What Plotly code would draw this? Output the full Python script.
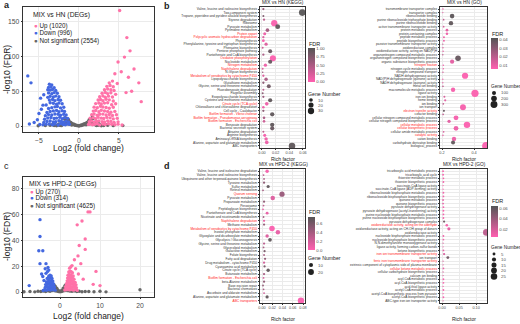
import plotly.graph_objects as go

W, H = 520, 324
FONT = "Arial, 'Liberation Sans', sans-serif"
PINK = '#ff72a8'
BLUE = '#4468e0'
GRAY = '#666666'
CSCALE = [[0, '#ff5fb0'], [1, '#555555']]
RED = '#ff2020'

# ---------------- Volcano data: panel a (MIX vs HN) ----------------
a_ns_x = [-4.2,-3.6,-3.1,-2.7,-2.4,-2.1,-1.9,-1.7,-1.5,-1.3,-1.1,-0.9,-0.7,-0.5,-0.3,-0.1,0.1,0.3,0.5,0.7,0.9,1.1,1.3,1.5,1.7,1.9,2.1,2.4,2.7,3.1,3.6,4.3,
          -1.6,-1.4,-1.2,-1.0,-0.8,-0.6,-0.4,0.4,0.6,0.8,1.0,1.2,1.4,1.6,-1.5,-1.2,-0.9,0.9,1.2,1.5,-1.8,-1.3,1.3,1.8,-0.2,0.2,0.0,
          -2.8,2.8,-2.2,2.2,-5.1,5.5,-3.3,3.3,-2.5,2.5,-2.0,2.0,-1.7,1.7]
a_ns_y = [0.8,1.2,0.6,1.5,0.9,1.8,2.5,4,6,5,4,3,2,1.2,0.6,0.3,0.4,0.7,1.3,2.1,3.2,4.2,5.5,6.5,4.5,2.8,1.6,1.0,1.4,0.7,1.1,0.5,
          8,7,6.5,5,3.5,2.5,1.5,1.8,2.8,3.8,5.2,7,8,9,3,2.5,1.5,1.7,2.6,3.2,10,9,9.5,11,0.9,1,0.2,
          0.3,0.4,0.5,0.6,0.4,0.6,2.2,2.5,3,3.3,5,5.5,12,13]
a_down_x = [-1.2,-1.4,-1.7,-2.0,-2.3,-2.6,-3.0,-3.3,-3.7,-4.1,-4.5,-4.9,
            -1.3,-1.6,-1.9,-2.2,-2.5,-2.9,-3.2,-3.6,-4.0,-4.4,
            -1.4,-1.8,-2.1,-2.4,-2.8,-3.1,-3.5,-3.9,-4.3,
            -1.6,-1.9,-2.3,-2.6,-3.0,-3.4,-3.8,-4.2,
            -1.8,-2.1,-2.5,-2.8,-3.2,-3.6,-4.0,
            -1.9,-2.3,-2.7,-3.0,-3.4,-3.8,
            -2.1,-2.5,-2.8,-3.2,-3.6,-4.1,
            -2.3,-2.6,-3.0,-3.3,-3.7,
            -2.5,-2.9,-3.2,-3.6,-3.9,
            -2.7,-3.1,-3.4,-3.8,
            -2.9,-3.3,-3.6,
            -3.1,-3.5,-3.8,
            -3.4,-3.7,
            -4.5,-4.7,-5.0,-5.2,-4.4,-6.4,-6.0,-5.6,-6.2,-4.8,-3.9]
a_down_y = [2.5,3.1,1.8,2.2,3.4,1.5,2.8,1.9,3.0,2.4,1.7,2.2,
            6,7,5.5,6.5,7.5,6.2,5.8,7.1,6.4,5.1,
            11,12,10.5,12.5,11.4,10.8,12.2,11.6,9.8,
            16,17,15.5,16.8,17.3,15.9,16.4,14.9,
            21,22,20.6,22.4,21.7,20.8,19.5,
            27,26,28,27.5,26.4,25.2,
            32,33,31.4,32.8,33.5,30.1,
            37,38,36.5,38.2,37.4,
            42,43,41.6,42.8,41.2,
            47,48,46.5,47.6,
            51,52.5,51.5,
            55,56,55.5,
            59,60,
            30,24,18,9,45,72,62,5,3,40,52]
a_up_x = [1.2,1.4,1.7,2.0,2.3,2.6,3.0,3.3,3.7,4.1,4.5,4.9,5.4,
          1.3,1.6,1.9,2.2,2.5,2.9,3.2,3.6,4.0,4.4,4.9,
          1.4,1.8,2.1,2.4,2.8,3.1,3.5,3.9,4.3,4.8,
          1.6,1.9,2.3,2.6,3.0,3.4,3.8,4.2,4.7,
          1.8,2.1,2.5,2.8,3.2,3.6,4.0,4.5,
          1.9,2.3,2.7,3.0,3.4,3.8,4.3,
          2.1,2.5,2.8,3.2,3.6,4.1,4.6,
          2.4,2.7,3.0,3.4,3.8,4.3,
          2.6,3.0,3.3,3.7,4.2,
          2.9,3.3,3.6,4.0,4.6,
          3.2,3.6,4.0,4.4,
          3.5,3.9,4.3,
          3.8,4.2,4.8,
          5.1,6.0,6.4,5.7,4.9,6.9,7.5,6.2,5.3,7.8,6.6,4.5,5.9]
a_up_y = [2.3,3.0,1.9,2.6,3.3,1.6,2.9,2.1,3.2,2.5,1.8,2.7,1.5,
          6.2,7.1,5.6,6.8,7.4,6.1,5.9,7.2,6.6,5.3,6.0,
          11.2,12.1,10.6,12.6,11.3,10.9,12.4,11.7,10.2,11.0,
          16.3,17.2,15.4,16.9,17.1,15.8,16.6,15.1,16.2,
          21.4,22.2,20.5,22.6,21.5,20.9,19.8,21.0,
          27.1,26.2,28.3,27.4,26.6,25.5,27.0,
          32.2,33.1,31.6,32.9,33.4,30.5,32.0,
          37.3,38.1,36.4,38.4,37.6,36.0,
          42.2,43.3,41.5,42.9,41.7,
          47.1,48.2,46.6,47.7,45.5,
          52.0,53.1,52.2,51.0,
          57.0,58.2,56.5,
          62.0,64.5,61.0,
          166,127,108,99,92,82,62,70,78,35,50,75,48]

# ---------------- Volcano data: panel c (MIX vs HPD-2) ----------------
c_ns_x = [-9,-7.5,-6.3,-5.5,-4.8,-4.2,-3.6,-3.0,-2.5,-2.0,-1.6,-1.2,-0.8,-0.4,0,0.4,0.8,1.2,1.6,2.0,2.5,3.0,3.6,4.2,4.8,5.5,6.3,7.2,8.5,10,11.5,20,
          -1.4,-1.0,-0.6,-0.2,0.2,0.6,1.0,1.4,-1.2,1.2,-0.8,0.8,-1.5,1.5,-2.2,2.3,-3.3,3.4]
c_ns_y = [0.3,0.5,0.2,0.6,0.4,0.8,0.5,1.0,0.7,1.2,1.5,1.0,0.8,0.4,0.2,0.5,0.9,1.3,1.6,1.1,0.8,0.6,0.9,0.4,0.7,0.3,0.5,0.4,0.3,0.6,0.2,1.8,
          3.5,2.5,1.6,0.8,0.9,1.7,2.6,3.6,4.5,4.7,3.0,3.1,5.5,5.8,2.0,2.2,1.4,1.5]
c_down_x = [-1.2,-1.5,-1.8,-2.1,-2.4,-2.7,-3.0,-3.4,-3.8,-4.2,
            -1.4,-1.7,-2.0,-2.3,-2.6,-2.9,-3.3,-3.7,
            -1.6,-1.9,-2.2,-2.5,-2.8,-3.2,-3.6,
            -1.8,-2.1,-2.4,-2.7,-3.0,-3.4,
            -2.0,-2.3,-2.6,-2.9,-3.2,
            -2.2,-2.5,-2.8,-3.5,-3.1,
            -5.0,-5.0,-5.3,-4.3,-5.0,-3.5,-3.7,-7.7,-4.3,-4.6,-3.0,-4.0,-2.8]
c_down_y = [1.5,2.2,1.8,2.5,1.6,2.3,1.9,1.4,2.0,1.2,
            4.0,4.6,3.8,4.4,4.1,3.6,4.3,3.5,
            6.3,6.8,6.1,6.6,6.0,6.4,5.8,
            8.5,9.0,8.2,8.8,8.1,7.9,
            10.5,11.2,10.8,10.1,10.6,
            12.5,13.0,12.2,14.5,16.0,
            56,43,32,32,22,22,18,5,12,14,19,9,17]
c_up_x = [1.2,1.5,1.8,2.1,2.4,2.7,3.0,3.4,3.8,4.3,
          1.4,1.7,2.0,2.3,2.6,2.9,3.3,3.7,4.1,
          1.6,1.9,2.2,2.5,2.8,3.2,3.6,4.0,
          1.8,2.1,2.4,2.7,3.0,3.4,3.8,
          1.9,2.2,2.5,2.8,3.1,3.5,
          2.0,2.3,2.6,2.9,3.3,
          2.2,2.5,2.8,3.1,
          2.4,2.7,3.0,
          7.0,7.5,5.5,4.3,6.3,4.8,6.3,4.5,9.0,8.3,10.0,3.6,5.2,3.9,4.6,5.8]
c_up_y = [1.6,2.3,1.9,2.6,1.7,2.4,2.0,1.5,2.1,1.3,
          4.2,4.8,4.0,4.5,4.3,3.8,4.4,3.7,3.3,
          6.5,7.0,6.3,6.8,6.2,6.6,6.0,5.6,
          8.7,9.2,8.4,9.0,8.3,8.1,7.5,
          10.8,11.4,11.0,10.4,10.9,10.0,
          13.0,13.6,13.2,12.6,12.4,
          15.5,16.2,15.8,15.0,
          18.5,19.5,20.5,
          62,62,55,52,41,36,33,28,16,6,5,25,22,18,14,10]

# ---------------- Panel b: KEGG (MIX vs HN) ----------------
b_kegg_terms = ["Valine, leucine and isoleucine biosynthesis","Two-component system",
  "Tropane, piperidine and pyridine alkaloid biosynthesis","Styrene degradation","Ribosome",
  "Pyruvate metabolism","Pyrimidine metabolism","Protein export",
  "Polycyclic aromatic hydrocarbon degradation","Photosynthesis",
  "Phenylalanine, tyrosine and tryptophan biosynthesis","Phenazine biosynthesis",
  "Pentose phosphate pathway","Pantothenate and CoA biosynthesis","Oxidative phosphorylation",
  "Nucleotide metabolism","Nitrogen metabolism","Naphthalene degradation","N-Glycan biosynthesis",
  "Metabolism of xenobiotics by cytochrome P450","Lipopolysaccharide biosynthesis",
  "Glutathione metabolism","Glycine, serine and threonine metabolism","Fluorobenzoate degradation",
  "Flagellar assembly","Exopolysaccharide biosynthesis","Cysteine and methionine metabolism",
  "Citrate cycle (TCA cycle)","Chloroalkane and chloroalkene degradation","Cell cycle - Caulobacter",
  "Biofilm formation - Vibrio cholerae","Biofilm formation - Pseudomonas aeruginosa",
  "Biofilm formation - Escherichia coli","Benzoate degradation","Bacterial secretion system",
  "Atrazine degradation","Arginine biosynthesis","Aminoacyl-tRNA biosynthesis",
  "Alanine, aspartate and glutamate metabolism","ABC transporters"]
b_kegg_red = [8, 9, 15, 17, 18, 20, 28, 31, 32, 33]
b_kegg_rich = [0.002,0.059,0.002,0.003,0.018,0.023,0.008,0.004,0.002,0.002,
               0.006,0.001,0.012,0.002,0.016,0.012,0.005,0.001,0.001,0.002,
               0.006,0.002,0.010,0.002,0.001,0.002,0.012,0.007,0.002,0.002,
               0.015,0.003,0.003,0.015,0.015,0.002,0.004,0.006,0.007,0.044]
b_kegg_fdr = [0.6,1.0,0.8,0.4,0.02,0.95,0.55,0.1,0.2,0.05,
              0.2,0.3,0.9,0.5,0.01,0.9,0.1,0.2,0.6,0.2,
              0.5,0.7,0.85,0.4,0.7,0.6,0.95,0.1,0.1,0.7,
              0.95,0.5,0.3,0.95,0.9,0.4,0.05,0.1,0.1,0.95]
b_kegg_genes = [4,33,3,4,30,18,10,7,4,6,
                8,3,12,4,28,13,8,3,2,4,
                9,4,12,3,3,4,13,10,5,4,
                14,5,5,14,13,3,7,9,10,32]

# ---------------- Panel b: GO (MIX vs HN) ----------------
b_go_terms = ["transmembrane transporter complex","transporter complex","ribonucleotide binding",
  "purine ribonucleoside triphosphate binding","purine ribonucleotide binding",
  "active transmembrane transporter activity","protein metabolic process","protein-containing complex",
  "peptide metabolic process","peptide biosynthetic process","passive transmembrane transporter activity",
  "oxidoreductase complex","oxidoreductase activity, acting on NAD(P)H",
  "organonitrogen compound metabolic process","organonitrogen compound biosynthetic process",
  "organic substance biosynthetic process","nitrogen fixation","nitrogen cycle metabolic process",
  "nitrogen compound transport","NADH dehydrogenase activity","NAD(P)H dehydrogenase (quinone) activity",
  "NADH dehydrogenase (quinone) activity","metal ion binding","macromolecule metabolic process",
  "ligase activity","iron ion binding","heme binding","ion binding","ion transport",
  "electron transfer activity","cofactor binding","cellular nitrogen compound metabolic process",
  "cellular nitrogen compound biosynthetic process","cellular metabolic process",
  "cellular biosynthetic process","cellular amide metabolic process","catalytic activity",
  "cation binding","carbohydrate derivative binding","biological_process"]
b_go_red = [17, 30, 34, 35, 37]
b_go_rich = [0.206,0.205,0.263,0.21,0.256,0.21,0.231,0.231,0.212,0.212,
             0.205,0.206,0.207,0.205,0.30,0.263,0.208,0.208,0.206,0.344,
             0.205,0.205,0.206,0.269,0.406,0.215,0.22,0.208,0.331,0.212,
             0.207,0.2875,0.244,0.356,0.2875,0.21,0.206,0.275,0.269,0.475]
b_go_fdr = [0.01,0.012,0.040,0.02,0.039,0.015,0.012,0.01,0.01,0.01,
            0.02,0.015,0.012,0.02,0.038,0.012,0.01,0.01,0.015,0.007,
            0.01,0.012,0.02,0.008,0.007,0.015,0.012,0.02,0.008,0.038,
            0.02,0.008,0.012,0.007,0.01,0.015,0.012,0.01,0.039,0.007]
b_go_genes = [15,12,130,18,120,20,45,40,25,24,
              12,14,16,14,190,110,16,15,14,240,
              12,12,18,120,330,25,30,20,220,28,
              18,150,70,260,140,20,15,120,100,380]

# ---------------- Panel d: KEGG (MIX vs HPD-2) ----------------
d_kegg_terms = ["Valine, leucine and isoleucine degradation","Valine, leucine and isoleucine biosynthesis",
  "Ubiquinone and other terpenoid-quinone biosynthesis","Tyrosine metabolism","Sulfur metabolism",
  "Retinol metabolism","Quorum sensing","Pyruvate metabolism","Propanoate metabolism","Peroxisome",
  "Peptidoglycan biosynthesis","Pantothenate and CoA biosynthesis",
  "Nicotinate and nicotinamide metabolism","Naphthalene degradation","Methane metabolism",
  "Metabolism of xenobiotics by cytochrome P450","Inositol phosphate metabolism",
  "Glyoxylate and dicarboxylate metabolism","Glycolysis / Gluconeogenesis",
  "Glycine, serine and threonine metabolism","Glycerolipid metabolism","Galactose metabolism",
  "Folate biosynthesis","Fatty acid degradation","Drug metabolism - cytochrome P450",
  "Cyanoamino acid metabolism","Citrate cycle (TCA cycle)","Butanoate metabolism",
  "Biofilm formation - Escherichia coli","beta-Alanine metabolism","Base excision repair",
  "Bacterial chemotaxis","Ascorbate and aldarate metabolism",
  "Alanine, aspartate and glutamate metabolism","ABC transporters"]
d_kegg_red = [7, 14, 16, 29, 35]
d_kegg_rich = [0.010,0.003,0.004,0.004,0.012,0.002,0.039,0.021,0.004,0.003,
               0.002,0.010,0.003,0.004,0.004,0.0195,0.031,0.010,0.0156,0.004,
               0.003,0.005,0.004,0.006,0.004,0.005,0.012,0.004,0.003,0.004,
               0.002,0.003,0.004,0.010,0.076]
d_kegg_fdr = [0.05,0.3,0.4,0.5,0.7,0.4,0.45,0.15,0.5,0.3,
              0.1,0.1,0.4,0.1,0.5,0.02,0.1,0.15,0.7,0.3,
              0.4,0.6,0.4,0.5,0.2,0.6,0.7,0.4,0.2,0.5,
              0.5,0.4,0.2,0.7,0.02]
d_kegg_genes = [7,2,2,3,6,2,16,12,3,2,
                2,5,2,3,3,18,12,7,8,3,
                2,3,2,3,3,3,7,3,2,3,
                2,2,2,6,24]

# ---------------- Panel d: GO (MIX vs HPD-2) ----------------
d_go_terms = ["tricarboxylic acid metabolic process","tricarboxylic acid cycle","thioester metabolic process",
  "thioester biosynthetic process","succinate-CoA ligase activity","succinate-CoA ligase (ADP-forming) activity",
  "ribonucleoside bisphosphate metabolic process","ribonucleoside bisphosphate biosynthetic process",
  "quinone metabolic process","quinone biosynthetic process","pyruvate dehydrogenase activity",
  "pyruvate dehydrogenase (acetyl-transferring) activity","purine nucleoside bisphosphate metabolic process",
  "purine nucleoside bisphosphate biosynthetic process","pyruvate dehydrogenase complex",
  "oxidoreductase activity, acting on the aldehyde","oxidoreductase activity, acting on CH-OH group of donors",
  "oxidoreductase activity","nucleoside bisphosphate metabolic process",
  "nucleoside bisphosphate biosynthetic process","N,N-dimethylaniline monooxygenase activity",
  "ligase activity, forming carbon-sulfur bonds","ketone biosynthetic process",
  "iron ion transmembrane transporter activity","ion transport",
  "ferric iron transmembrane transporter activity",
  "extrinsic component of cytoplasmic side of plasma membrane","cellular ketone metabolic process",
  "cellular carbohydrate biosynthetic process","calcium ion binding","acyl-CoA metabolic process",
  "acyl-CoA biosynthetic process","acid-thiol ligase activity","acetyl-CoA metabolic process",
  "acetyl-CoA biosynthetic process from pyruvate","acetyl-CoA biosynthetic process",
  "ABC-type iron ion transporter activity"]
d_go_red = [16, 24, 26, 28]
d_go_rich = [0.003,0.003,0.004,0.004,0.003,0.003,0.004,0.004,0.003,0.003,
             0.004,0.004,0.004,0.004,0.006,0.014,0.020,0.130,0.004,0.004,
             0.003,0.003,0.004,0.006,0.017,0.003,0.003,0.004,0.003,0.003,
             0.004,0.004,0.003,0.004,0.003,0.004,0.003]
d_go_fdr = [0.01,0.01,0.012,0.012,0.01,0.01,0.012,0.012,0.015,0.015,
            0.01,0.01,0.012,0.012,0.055,0.01,0.015,0.03,0.012,0.012,
            0.02,0.015,0.015,0.02,0.055,0.02,0.02,0.015,0.02,0.02,
            0.01,0.01,0.012,0.01,0.01,0.01,0.02]
d_go_genes = [2,2,2,2,1,1,2,2,2,2,
              2,2,2,2,3,4,6,26,2,2,
              1,1,2,3,5,1,1,2,1,1,
              2,2,1,2,1,2,1]


def fx(p):
    return p / W


def fy(p):
    return 1 - p / H


fig = go.Figure()

# ---------- volcano traces ----------
def volcano(xs, ys, color, xa, ya):
    fig.add_trace(go.Scatter(x=xs, y=ys, mode='markers', xaxis=xa, yaxis=ya,
                             marker=dict(size=3.4, color=color, line=dict(width=0)),
                             showlegend=False, hoverinfo='skip'))

volcano(a_ns_x, a_ns_y, GRAY, 'x', 'y')
volcano(a_down_x, a_down_y, BLUE, 'x', 'y')
volcano(a_up_x, a_up_y, PINK, 'x', 'y')
volcano(c_ns_x, c_ns_y, GRAY, 'x2', 'y2')
volcano(c_down_x, c_down_y, BLUE, 'x2', 'y2')
volcano(c_up_x, c_up_y, PINK, 'x2', 'y2')

# ---------- dot plot traces ----------
def sizes(genes, k):
    return [k * g ** 0.5 for g in genes]

def dots(terms, rich, fdr, genes, k, xa, ya, cax):
    fig.add_trace(go.Scatter(x=rich, y=terms, mode='markers', xaxis=xa, yaxis=ya,
                             marker=dict(size=sizes(genes, k), color=fdr, coloraxis=cax,
                                         line=dict(width=0), opacity=0.95),
                             showlegend=False, hoverinfo='skip'))

K_BK, K_BG, K_DK, K_DG = 1.15, 0.40, 1.3, 1.3
dots(b_kegg_terms, b_kegg_rich, b_kegg_fdr, b_kegg_genes, K_BK, 'x3', 'y3', 'coloraxis')
dots(b_go_terms, b_go_rich, b_go_fdr, b_go_genes, K_BG, 'x4', 'y4', 'coloraxis2')
dots(d_kegg_terms, d_kegg_rich, d_kegg_fdr, d_kegg_genes, K_DK, 'x5', 'y5', 'coloraxis3')
dots(d_go_terms, d_go_rich, d_go_fdr, d_go_genes, K_DG, 'x6', 'y6', 'coloraxis4')

# ---------- axes ----------
LINE = '#333333'
GRID = '#ebebeb'

def volc_x(x0, x1, rng, tv, anchor):
    return dict(domain=[fx(x0), fx(x1)], range=rng, tickvals=tv, ticks='outside', ticklen=1.5,
                tickwidth=0.6, tickcolor=LINE, tickangle=0,
                tickfont=dict(size=6.8, color='#4d4d4d', family=FONT),
                showgrid=True, gridcolor=GRID, gridwidth=0.6, showline=True, mirror=True,
                linecolor=LINE, linewidth=0.7, zeroline=False, anchor=anchor)

def volc_y(y0, y1, rng, tv, anchor):
    return dict(domain=[fy(y1), fy(y0)], range=rng, tickvals=tv, ticks='outside', ticklen=1.5,
                tickwidth=0.6, tickcolor=LINE, tickfont=dict(size=6.8, color='#4d4d4d', family=FONT),
                showgrid=True, gridcolor=GRID, gridwidth=0.6, showline=True, mirror=True,
                linecolor=LINE, linewidth=0.7, zeroline=False, anchor=anchor)

def dot_x(x0, x1, rng, tv, fmt, anchor):
    return dict(domain=[fx(x0), fx(x1)], range=rng, tickvals=tv, tickformat=fmt, ticks='outside',
                ticklen=1.0, tickwidth=0.5, tickcolor=LINE, tickangle=0,
                tickfont=dict(size=3.8, color='#4d4d4d', family=FONT),
                showgrid=True, gridcolor=GRID, gridwidth=0.5, showline=True, mirror=True,
                linecolor=LINE, linewidth=0.6, zeroline=False, anchor=anchor)

def dot_y(y0, y1, terms, red, anchor):
    tt = []
    for i, t in enumerate(terms):
        if (i + 1) in red:
            tt.append('<span style="color:%s">%s</span>' % (RED, t))
        else:
            tt.append(t)
    n = len(terms)
    return dict(domain=[fy(y1), fy(y0)], type='category', categoryorder='array',
                categoryarray=terms, tickmode='array', tickvals=terms, ticktext=tt,
                range=[n - 0.4, -0.6], ticks='outside', ticklen=1.5, tickwidth=0.4, tickcolor=LINE,
                tickfont=dict(size=3.2, color='#333333', family=FONT),
                showgrid=True, gridcolor=GRID, gridwidth=0.5, showline=True, mirror=True,
                linecolor=LINE, linewidth=0.6, zeroline=False, anchor=anchor)

layout = dict(
    width=W, height=H, margin=dict(l=0, r=0, t=0, b=0), template='none',
    paper_bgcolor='white', plot_bgcolor='white', font=dict(family=FONT, color='#222'),
    xaxis=volc_x(23, 154, [-7, 9.4], [-5, 0, 5], 'y'),
    yaxis=volc_y(7, 132, [-8.6, 171], [0, 50, 100, 150], 'x'),
    xaxis2=volc_x(23, 154, [-9.25, 23.5], [0, 10, 20], 'y2'),
    yaxis2=volc_y(177, 297, [-3.8, 89], [0, 20, 40, 60, 80], 'x2'),
    xaxis3=dot_x(260, 305, [-0.0029, 0.063], [0, 0.02, 0.04, 0.06], '.2f', 'y3'),
    yaxis3=dot_y(7, 148, b_kegg_terms, b_kegg_red, 'x3'),
    xaxis4=dot_x(440, 487, [0.1875, 0.481], [0.2, 0.4], '.1f', 'y4'),
    yaxis4=dot_y(7, 148, b_go_terms, b_go_red, 'x4'),
    xaxis5=dot_x(260, 305, [-0.0039, 0.0839], [0, 0.02, 0.04, 0.06, 0.08], '.2f', 'y5'),
    yaxis5=dot_y(169, 303, d_kegg_terms, d_kegg_red, 'x5'),
    xaxis6=dot_x(440, 487, [-0.006, 0.132], [0, 0.05, 0.10], '.2f', 'y6'),
    yaxis6=dot_y(169, 303, d_go_terms, d_go_red, 'x6'),
)

def cax(cmin, cmax, x, y0, y1, tv, fmt):
    return dict(cmin=cmin, cmax=cmax, colorscale=CSCALE,
                colorbar=dict(x=fx(x), xanchor='left', y=fy((y0 + y1) / 2), yanchor='middle',
                              len=(y1 - y0), lenmode='pixels', thickness=7, thicknessmode='pixels',
                              outlinewidth=0, tickvals=tv, tickformat=fmt, ticks='',
                              tickfont=dict(size=4.3, color='#4d4d4d', family=FONT),
                              ypad=0, xpad=0, title=dict(text='')))

layout['coloraxis'] = cax(-0.01, 1.01, 308, 48, 82, [0, 0.25, 0.5, 0.75, 1.0], '.2f')
layout['coloraxis2'] = cax(0.0062, 0.0415, 491, 38, 69, [0.01, 0.02, 0.03, 0.04], '.2f')
layout['coloraxis3'] = cax(0, 0.75, 308, 217, 250, [0, 0.2, 0.4, 0.6], '.1f')
layout['coloraxis4'] = cax(0.0065, 0.064, 491, 206, 237, [0.02, 0.04, 0.06], '.2f')
fig.update_layout(**layout)

# ---------- annotations ----------
ann = []
def text(x, y, s, size, xanchor='left', yanchor='middle', color='#222', angle=0, bold=False):
    if bold:
        s = '<b>%s</b>' % s
    ann.append(dict(x=fx(x), y=fy(y), xref='paper', yref='paper', text=s, showarrow=False,
                    xanchor=xanchor, yanchor=yanchor, textangle=angle,
                    font=dict(size=size, color=color, family=FONT)))

# panel letters
text(2, 5, 'a', 9, bold=True)
text(162, 6, 'b', 9, bold=True)
text(2, 166, 'c', 9)
text(162, 166, 'd', 9, bold=True)

# volcano titles/legends
text(7, 70, '-log10 (FDR)', 8.5, xanchor='center', angle=-90)
text(88, 148.5, 'Log2 (fold change)', 8.5, xanchor='center')
text(7, 237, '-log10 (FDR)', 8.5, xanchor='center', angle=-90)
text(88, 315.5, 'Log2 (fold change)', 8.5, xanchor='center')

def vleg(x, ys, title, items):
    text(x, ys[0], title, 6.8, color='#222')
    for (lab, col), yy in zip(items, ys[1:]):
        text(x + 0.5, yy, '<span style="color:%s">\u25CF</span> %s' % (col, lab), 6.3, color='#222')

vleg(31, [15, 25.5, 33, 41], 'MIX vs HN (DEGs)',
     [('Up (1020)', PINK), ('Down (996)', BLUE), ('Not significant (2554)', GRAY)])
vleg(27, [184, 191.5, 198.5, 205.5], 'MIX vs HPD-2 (DEGs)',
     [('Up (270)', PINK), ('Down (314)', BLUE), ('Not significant (4625)', GRAY)])

# dot plot titles / x titles
text(283, 7, 'MIX vs HN (KEGG)', 4.8, xanchor='center', yanchor='bottom')
text(464, 7, 'MIX vs HN (GO)', 4.8, xanchor='center', yanchor='bottom')
text(283, 169, 'MIX vs HPD-2 (KEGG)', 4.8, xanchor='center', yanchor='bottom')
text(464, 169, 'MIX vs HPD-2 (GO)', 4.8, xanchor='center', yanchor='bottom')
for xc, yc in [(283, 158.8), (464, 158.8), (283, 318.8), (464, 318.8)]:
    text(xc, yc, 'Rich factor', 5, xanchor='center')

# FDR titles
text(307, 44, 'FDR', 5.5)
text(490, 34, 'FDR', 5.5)
text(307, 212, 'FDR', 5.5)
text(490, 201, 'FDR', 5.5)

# Gene number legends
shapes = []
def gleg(x, ytitle, ys, vals, k, tsize=5.2):
    text(x - 1, ytitle, 'Gene Number', tsize)
    for v, yy in zip(vals, ys):
        d = k * v ** 0.5
        shapes.append(dict(type='circle', xref='paper', yref='paper',
                           x0=fx(x + 4 - d / 2), x1=fx(x + 4 + d / 2),
                           y0=fy(yy + d / 2), y1=fy(yy - d / 2),
                           fillcolor='#222222', line=dict(width=0)))
        text(x + 9, yy, str(v), 4.3, color='#4d4d4d')

gleg(307, 94, [100, 105, 111], [10, 20, 30], K_BK)
gleg(490, 86, [93, 98.5, 104.5], [100, 200, 300], K_BG, 4.7)
gleg(307, 258, [265, 272], [10, 20], K_DK)
gleg(490, 247, [254, 259.5, 265, 270.5, 276.5], [5, 10, 15, 20, 25], K_DG, 4.7)

fig.update_layout(annotations=ann, shapes=shapes)
# the page's default 8px body margin would shift the figure; remove it
fig.write_html('out.html', config={'displayModeBar': False},
               post_script="document.body.style.margin='0';document.body.style.overflow='hidden';")
